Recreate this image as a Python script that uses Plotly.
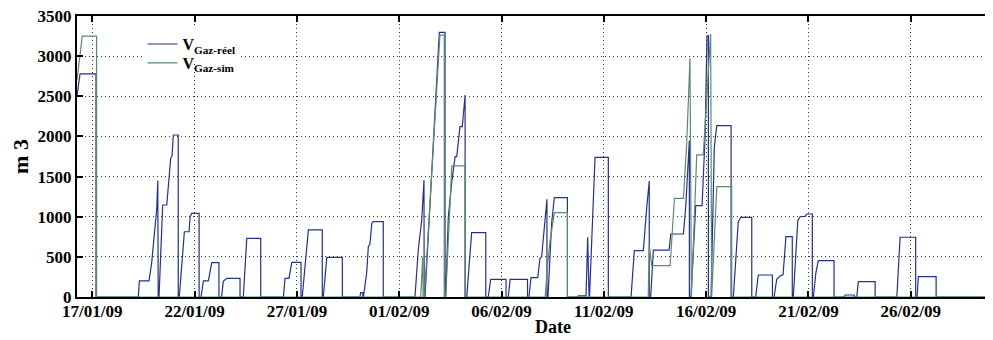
import pandas as pd
import plotly.graph_objects as go

# time in days after 17/01/2009 00:00, volume in m3
start = pd.Timestamp("2009-01-17")

days_reel = [-0.75, -0.60, 0.18, 0.18, 2.25, 2.30, 2.77, 2.90, 3.02, 3.06, 3.15, 3.20, 3.22,
             3.26, 3.44, 3.64, 3.83, 3.90, 3.96, 4.20, 4.20, 4.25, 4.50, 4.73, 4.78, 4.86, 5.22, 5.22,
             5.31, 5.43, 5.67, 5.84, 6.19, 6.19, 6.32, 6.40, 6.57, 7.22, 7.22, 7.38, 7.55, 8.23, 8.23,
             9.34, 9.42, 9.61, 9.75, 10.20, 10.20, 10.26, 10.48, 10.56, 11.24, 11.24, 11.29, 11.46,
             12.22, 12.22, 13.08, 13.12, 13.22, 13.22, 13.25, 13.41, 13.49, 13.57, 13.66, 13.73,
             14.22, 14.22, 15.77, 15.93, 16.10, 16.21, 16.22, 16.26, 16.96, 17.24, 17.24, 17.27,
             17.40, 17.57, 17.73, 17.81, 17.97, 18.08, 18.22, 18.22, 18.30, 18.54, 19.23, 19.23,
             19.35, 19.47, 20.22, 20.22, 20.33, 20.42, 21.27, 21.27, 21.34, 21.44, 21.77, 21.88,
             21.96, 22.04, 22.13, 22.22, 22.22, 22.27, 22.45, 22.58, 23.22, 23.22, 23.74, 23.75,
             24.13, 24.21, 24.28, 24.30, 24.57, 25.22, 25.22, 26.33, 26.49, 26.93, 27.10, 27.22,
             27.22, 27.29, 27.42, 28.19, 28.27, 28.89, 29.00, 29.09, 29.18, 29.18, 29.26, 29.49,
             29.80, 29.95, 30.04, 30.11, 30.11, 30.24, 30.40, 30.52, 31.22, 31.22, 31.33, 31.57,
             31.69, 32.23, 32.23, 32.42, 32.55, 33.24, 33.24, 33.32, 33.45, 33.61, 33.76, 33.90,
             34.21, 34.21, 34.26, 34.48, 34.59, 34.83, 34.92, 35.19, 35.19, 35.24, 35.36, 35.48,
             36.25, 36.25, 36.75, 36.79, 37.24, 37.24, 37.36, 37.44, 38.26, 38.26, 39.32, 39.48,
             40.24, 40.24, 40.31, 40.37, 41.24, 41.24, 44.10]
v_reel = [2500, 2780, 2780, 0, 0, 200, 200, 420, 750, 880, 1100, 1450, 0,
          0, 1146, 1146, 1727, 1760, 2018, 2018, 0, 0, 813, 813, 1000, 1042, 1042, 0,
          0, 200, 200, 427, 427, 0, 0, 195, 233, 233, 0, 0, 731, 731, 0,
          0, 233, 233, 432, 432, 0, 0, 669, 835, 835, 0, 0, 494,
          494, 0, 0, 54, 54, 0, 0, 300, 627, 660, 918, 938,
          938, 0, 0, 585, 959, 1457, 0, 0, 3297, 3297, 0, 0,
          1000, 1436, 1748, 1748, 2121, 2121, 2516, 0, 0, 801, 801, 0,
          0, 220, 220, 0, 0, 220, 220, 0, 0, 241, 241, 482,
          500, 731, 1000, 1217, 0, 0, 918, 1237, 1237, 0, 0, 15,
          15, 744, 0, 0, 1740, 1740, 0, 0, 577, 577, 1125, 1445,
          0, 0, 585, 585, 785, 785, 1117, 1500, 1950, 0, 0, 1137,
          1137, 2000, 3243, 3263, 0, 0, 1872, 2134, 2134, 0, 0, 938,
          993, 993, 0, 0, 274, 274, 0, 0, 220, 262, 275, 751,
          751, 0, 0, 950, 1000, 1004, 1034, 1034, 0, 0, 295, 452,
          452, 0, 0, 25, 25, 0, 0, 191, 191, 0, 0, 744,
          744, 0, 0, 253, 253, 0, 0]

days_sim = [-0.75, -0.49, 0.21, 0.21, 16.05, 16.15, 16.17, 16.23, 16.99, 17.20, 17.20, 17.27,
            17.57, 18.22, 18.22, 22.13, 22.26, 22.37, 22.58, 23.22, 23.22, 27.17, 27.22, 27.34,
            28.24, 28.45, 28.89, 29.05, 29.21, 29.25, 29.28, 29.54, 29.86, 30.22, 30.24, 30.27,
            30.52, 31.25, 31.25, 44.10]
v_sim = [2700, 3250, 3250, 0, 0, 502, 0, 0, 3263, 3263, 0, 0,
         1632, 1632, 0, 0, 420, 694, 1050, 1050, 0, 0, 648, 390,
         390, 1229, 1229, 1914, 2973, 0, 0, 1769, 1769, 3276, 0, 0,
         1374, 1374, 0, 0]

tick_days = [0, 5, 10, 15, 20, 25, 30, 35, 40]
tick_labels = ["17/01/09", "22/01/09", "27/01/09", "01/02/09", "06/02/09",
               "11/02/09", "16/02/09", "21/02/09", "26/02/09"]

t_reel = start + pd.to_timedelta(days_reel, unit="D")
t_sim = start + pd.to_timedelta(days_sim, unit="D")
t_ticks = start + pd.to_timedelta(tick_days, unit="D")

fig = go.Figure()
fig.add_trace(go.Scatter(x=t_reel, y=v_reel, mode="lines", name="V<sub>Gaz-réel</sub>",
                         line=dict(color="#23318f", width=1.2), legend="legend"))
fig.add_trace(go.Scatter(x=t_sim, y=v_sim, mode="lines", name="V<sub>Gaz-sim</sub>",
                         line=dict(color="#5b8c6c", width=1.2), legend="legend2"))

axis_style = dict(showline=True, linecolor="black", linewidth=2, mirror="ticks",
                  ticks="inside", ticklen=6, tickwidth=2, tickcolor="black",
                  showgrid=True, gridcolor="#333333", griddash="1px,3px", gridwidth=1,
                  zeroline=False, automargin=False, ticklabeloverflow="allow")

fig.update_xaxes(range=[start + pd.Timedelta(days=-0.748), start + pd.Timedelta(days=44.02)],
                 tickvals=t_ticks, ticktext=tick_labels, tickfont=dict(size=17),
                 ticklabelstandoff=-2, **axis_style)
fig.update_yaxes(range=[0, 3500], dtick=500, tickfont=dict(size=17),
                 title=dict(text="m 3", standoff=12), **axis_style)

# x title placed by hand, a bit right of centre as in the original
fig.add_annotation(text="Date", xref="paper", yref="paper", x=0.52, y=-0.107,
                   xanchor="center", yanchor="middle", showarrow=False,
                   font=dict(size=18))

leg = dict(xanchor="left", yanchor="middle", borderwidth=0,
           font=dict(size=16), itemwidth=30)

# the page keeps an 8px body margin, so the figure is 8px smaller than the window
fig.update_layout(
    width=985, height=332,
    margin=dict(l=69, r=0, t=8, b=43),
    plot_bgcolor="white", paper_bgcolor="white",
    font=dict(family="Liberation Serif", size=18, color="black", weight="bold"),
    legend=dict(x=0.0715, y=0.90, bgcolor="white", **leg),
    legend2=dict(x=0.0715, y=0.833, bgcolor="rgba(0,0,0,0)", **leg),
    showlegend=True,
)

fig.write_html("out.html")
